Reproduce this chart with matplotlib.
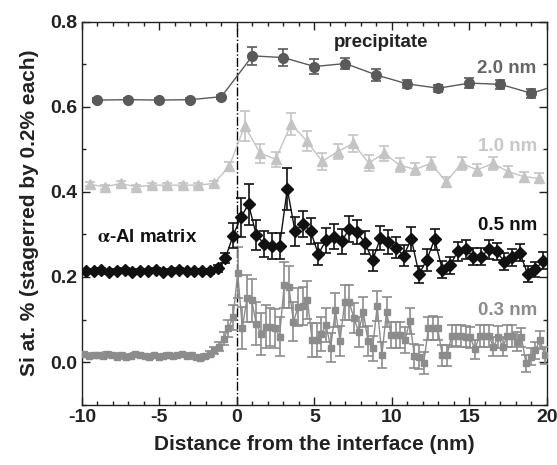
import numpy as np
import matplotlib
matplotlib.use("Agg")
import matplotlib.pyplot as plt
from matplotlib.ticker import MultipleLocator

plt.rcParams['font.family'] = ['Liberation Sans', 'DejaVu Sans']
plt.rcParams['font.weight'] = 'bold'
plt.rcParams['axes.unicode_minus'] = False
plt.rcParams['mathtext.fontset'] = 'stix'

# 2.0 nm bins (circles)
x_20 = [-9, -7, -5, -3, -1, 1, 3, 5, 7, 9, 11, 13, 15, 17, 19, 21]
y_20 = [0.616, 0.617, 0.616, 0.617, 0.624, 0.720, 0.716, 0.695, 0.702, 0.675,
        0.654, 0.644, 0.656, 0.653, 0.632, 0.655]
e_20 = [0.004, 0.004, 0.004, 0.004, 0.005, 0.022, 0.020, 0.017, 0.014, 0.013,
        0.010, 0.008, 0.012, 0.010, 0.010, 0.010]

# 1.0 nm bins (triangles)
x_10 = [-9.5, -8.5, -7.5, -6.5, -5.5, -4.5, -3.5, -2.5, -1.5, -0.5,
        0.5, 1.5, 2.5, 3.5, 4.5, 5.5, 6.5, 7.5, 8.5, 9.5,
        10.5, 11.5, 12.5, 13.5, 14.5, 15.5, 16.5, 17.5, 18.5, 19.5]
y_10 = [0.418, 0.412, 0.420, 0.412, 0.416, 0.416, 0.416, 0.416, 0.420, 0.460,
        0.555, 0.491, 0.477, 0.560, 0.520, 0.472, 0.495, 0.514, 0.468, 0.491,
        0.463, 0.453, 0.467, 0.424, 0.467, 0.452, 0.467, 0.448, 0.436, 0.432]
e_10 = [0.005, 0.005, 0.005, 0.005, 0.005, 0.005, 0.005, 0.005, 0.006, 0.010,
        0.035, 0.022, 0.018, 0.025, 0.024, 0.020, 0.018, 0.020, 0.018, 0.018,
        0.016, 0.014, 0.015, 0.012, 0.015, 0.014, 0.015, 0.013, 0.012, 0.012]

# 0.5 nm bins (diamonds)
x_05 = [-9.75, -9.25, -8.75, -8.25, -7.75, -7.25, -6.75, -6.25, -5.75, -5.25,
        -4.75, -4.25, -3.75, -3.25, -2.75, -2.25, -1.75, -1.25, -0.75, -0.25,
        0.25, 0.75, 1.25, 1.75, 2.25, 2.75, 3.25, 3.75, 4.25, 4.75,
        5.25, 5.75, 6.25, 6.75, 7.25, 7.75, 8.25, 8.75, 9.25, 9.75,
        10.25, 10.75, 11.25, 11.75, 12.25, 12.75, 13.25, 13.75, 14.25, 14.75,
        15.25, 15.75, 16.25, 16.75, 17.25, 17.75, 18.25, 18.75, 19.25, 19.75]
y_05 = [0.215, 0.213, 0.216, 0.211, 0.214, 0.216, 0.212, 0.215, 0.213, 0.216,
        0.212, 0.214, 0.216, 0.213, 0.215, 0.214, 0.213, 0.220, 0.244, 0.297,
        0.340, 0.371, 0.299, 0.278, 0.273, 0.273, 0.407, 0.307, 0.325, 0.308,
        0.254, 0.286, 0.295, 0.284, 0.313, 0.305, 0.281, 0.239, 0.291, 0.283,
        0.269, 0.250, 0.289, 0.207, 0.240, 0.289, 0.217, 0.228, 0.260, 0.265,
        0.248, 0.248, 0.265, 0.260, 0.236, 0.246, 0.257, 0.207, 0.218, 0.238]
e_05 = [0.004, 0.004, 0.004, 0.004, 0.004, 0.004, 0.004, 0.004, 0.004, 0.004,
        0.004, 0.004, 0.004, 0.004, 0.004, 0.004, 0.005, 0.008, 0.012, 0.030,
        0.045, 0.048, 0.035, 0.030, 0.030, 0.030, 0.050, 0.035, 0.030, 0.030,
        0.025, 0.030, 0.030, 0.030, 0.030, 0.028, 0.028, 0.025, 0.028, 0.028,
        0.025, 0.025, 0.028, 0.020, 0.025, 0.025, 0.020, 0.020, 0.022, 0.022,
        0.020, 0.020, 0.022, 0.020, 0.020, 0.020, 0.020, 0.018, 0.018, 0.020]

# 0.3 nm bins (squares)
x_03 = [-9.85, -9.55, -9.25, -8.95, -8.65, -8.35, -8.05, -7.75, -7.45, -7.15,
        -6.85, -6.55, -6.25, -5.95, -5.65, -5.35, -5.05, -4.75, -4.45, -4.15,
        -3.85, -3.55, -3.25, -2.95, -2.65, -2.35, -2.05, -1.75, -1.45, -1.15,
        -0.85, -0.55, -0.25, 0.05, 0.35, 0.65, 0.95, 1.25, 1.55, 1.85,
        2.15, 2.45, 2.75, 3.05, 3.35, 3.65, 3.95, 4.25, 4.55, 4.85,
        5.15, 5.45, 5.75, 6.05, 6.35, 6.65, 6.95, 7.25, 7.55, 7.85,
        8.15, 8.45, 8.75, 9.05, 9.35, 9.65, 9.95, 10.25, 10.55, 10.85,
        11.15, 11.45, 11.75, 12.05, 12.35, 12.65, 12.95, 13.25, 13.55, 13.85,
        14.15, 14.45, 14.75, 15.05, 15.35, 15.65, 15.95, 16.25, 16.55, 16.85,
        17.15, 17.45, 17.75, 18.05, 18.35, 18.65, 18.95, 19.25, 19.55, 19.85]
y_03 = [0.018, 0.015, 0.017, 0.016, 0.014, 0.019, 0.016, 0.013, 0.017, 0.011,
        0.015, 0.018, 0.016, 0.014, 0.012, 0.016, 0.013, 0.015, 0.017, 0.014,
        0.016, 0.018, 0.015, 0.017, 0.012, 0.009, 0.014, 0.020, 0.028, 0.036,
        0.055, 0.080, 0.105, 0.210, 0.080, 0.150, 0.145, 0.090, 0.066, 0.083,
        0.083, 0.079, 0.060, 0.181, 0.177, 0.095, 0.130, 0.132, 0.146, 0.052,
        0.052, 0.067, 0.087, 0.034, 0.122, 0.050, 0.140, 0.140, 0.103, 0.071,
        0.118, 0.050, 0.032, 0.132, 0.016, 0.118, 0.064, 0.064, 0.064, 0.052,
        0.097, 0.014, 0.012, -0.002, 0.079, 0.080, 0.079, 0.016, 0.016, 0.061,
        0.062, 0.061, 0.060, 0.058, 0.030, 0.061, 0.061, 0.061, 0.036, 0.059,
        0.036, 0.061, 0.061, 0.048, 0.058, -0.003, 0.012, 0.028, 0.052, 0.016]
e_03 = [0.004, 0.004, 0.004, 0.004, 0.004, 0.004, 0.004, 0.004, 0.004, 0.004,
        0.004, 0.004, 0.004, 0.004, 0.004, 0.004, 0.004, 0.004, 0.004, 0.004,
        0.004, 0.004, 0.004, 0.004, 0.004, 0.005, 0.005, 0.006, 0.008, 0.010,
        0.015, 0.020, 0.030, 0.060, 0.050, 0.055, 0.050, 0.050, 0.050, 0.050,
        0.045, 0.045, 0.045, 0.055, 0.050, 0.045, 0.045, 0.045, 0.045, 0.040,
        0.040, 0.040, 0.040, 0.035, 0.040, 0.035, 0.040, 0.040, 0.035, 0.035,
        0.035, 0.035, 0.030, 0.035, 0.030, 0.035, 0.030, 0.030, 0.030, 0.030,
        0.030, 0.028, 0.028, 0.025, 0.028, 0.028, 0.028, 0.025, 0.025, 0.025,
        0.025, 0.025, 0.025, 0.025, 0.022, 0.025, 0.025, 0.025, 0.022, 0.025,
        0.022, 0.025, 0.025, 0.022, 0.022, 0.020, 0.020, 0.020, 0.022, 0.020]

fig = plt.figure(figsize=(5.57, 4.65), dpi=100)
ax = fig.add_axes([0.147, 0.130, 0.835, 0.823])

# vertical dash-dot line at the interface
ax.axvline(0, color='black', lw=1.0, ls='-.', zorder=1)

series = [
    (x_03, y_03, e_03, 's', 5.0, '#8c8c8c'),
    (x_05, y_05, e_05, 'D', 6.0, '#111111'),
    (x_10, y_10, e_10, '^', 7.0, '#c4c4c4'),
    (x_20, y_20, e_20, 'o', 7.0, '#5a5a5a'),
]
for xs, ys, es, mk, ms, col in series:
    ax.errorbar(xs, ys, yerr=es, fmt=mk + '-', color=col, ms=ms, lw=1.0,
                elinewidth=1.2, capsize=3.5, capthick=1.2, mec=col, mfc=col,
                zorder=3)

# annotations
ax.text(9.3, 0.752, 'precipitate', fontsize=13.5, fontweight='bold',
        color='#222222', ha='center', va='center')
ax.text(19.3, 0.691, '2.0 nm', fontsize=13.5, fontweight='bold',
        color='#666666', ha='right', va='center')
ax.text(19.4, 0.507, '1.0 nm', fontsize=13.5, fontweight='bold',
        color='#c8c8c8', ha='right', va='center')
ax.text(19.4, 0.322, '0.5 nm', fontsize=13.5, fontweight='bold',
        color='#111111', ha='right', va='center')
ax.text(19.4, 0.122, '0.3 nm', fontsize=13.5, fontweight='bold',
        color='#8c8c8c', ha='right', va='center')
ax.text(-9.05, 0.292, r'$\mathrm{\alpha}$-Al matrix', fontsize=13.5,
        fontweight='bold', color='#111111', ha='left', va='center')

ax.set_xlim(-10, 20)
ax.set_ylim(-0.1, 0.8)
ax.xaxis.set_major_locator(MultipleLocator(5))
ax.xaxis.set_minor_locator(MultipleLocator(1))
ax.yaxis.set_minor_locator(MultipleLocator(0.1))
ax.set_yticks([0.0, 0.2, 0.4, 0.6, 0.8])
ax.set_yticklabels(['0.0', '0.2', '0.4', '0.6', '0.8'])
ax.tick_params(which='both', direction='in', top=True, right=True,
               labelsize=14, width=1.0, colors='#222222')
ax.tick_params(which='major', length=6)
ax.tick_params(which='minor', length=3)
for lab in ax.get_xticklabels() + ax.get_yticklabels():
    lab.set_fontweight('bold')
for sp in ax.spines.values():
    sp.set_linewidth(1.0)
    sp.set_color('#222222')

ax.set_xlabel('Distance from the interface (nm)', fontsize=15,
              fontweight='bold', color='#222222', labelpad=6)
ax.set_ylabel('Si at. % (stagerred by 0.2% each)', fontsize=15,
              fontweight='bold', color='#222222', labelpad=8)

fig.savefig('out.png', dpi=100)
